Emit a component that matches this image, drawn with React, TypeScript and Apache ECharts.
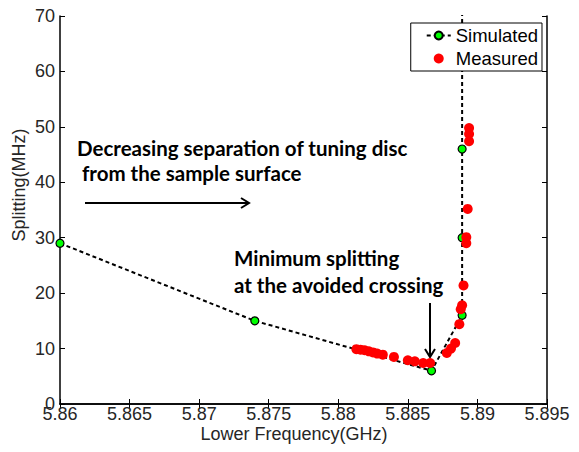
import React, { useEffect, useRef } from "react";
import * as echarts from "echarts";

const simFreq = [5.86, 5.874, 5.8867, 5.8889, 5.8889, 5.8889, 5.8889];
const simSplit = [29, 15, 6, 16, 30, 46, 75];

const measFreq = [
  5.8813, 5.8816, 5.8819, 5.8822, 5.8825, 5.8828, 5.8832, 5.884, 5.885, 5.8855,
  5.8861, 5.8866, 5.8878, 5.8881, 5.8884, 5.8887, 5.8888, 5.8889, 5.889, 5.8892,
  5.8892, 5.8893, 5.8894, 5.8894, 5.8894,
];
const measSplit = [
  9.9, 9.8, 9.7, 9.5, 9.3, 9.1, 8.9, 8.5, 7.9, 7.7, 7.4, 7.4, 9.2, 10.0, 11.0,
  14.4, 17.1, 17.8, 21.4, 29.0, 30.1, 35.2, 47.4, 48.7, 49.8,
];

const xTicks = { min: 5.86, max: 5.895, interval: 0.005 };
const yTicks = { min: 0, max: 70, interval: 10 };

const xTitle = "Lower Frequency(GHz)";
const yTitle = "Splitting(MHz)";
const annotation1 = ["Decreasing separation of tuning disc", " from the sample surface"];
const annotation2 = ["Minimum splitting", "at the avoided crossing"];

export default function App() {
  const ref = useRef<HTMLDivElement>(null);
  useEffect(() => {
    document.body.style.margin = "0";
    const chart = echarts.init(ref.current!, null, { renderer: "svg" });
    const fam = "Arial, 'Liberation Sans', sans-serif";
    const axisFont = { fontFamily: fam, fontSize: 18, color: "#262626" };
    const annFont = "bold 20.5px Lato";
    const fmtX = (v: number) => String(parseFloat(v.toFixed(3)));
    const frameLine = { show: true, lineStyle: { color: "#000", width: 1.5 } };
    const tick = { show: true, inside: true, length: 5, lineStyle: { color: "#000" } };
    chart.setOption({
      animation: false,
      backgroundColor: "#fff",
      grid: { left: 60, right: 32, top: 16, bottom: 48, containLabel: false },
      legend: {
        orient: "vertical",
        right: 37,
        top: 23,
        backgroundColor: "#fff",
        borderColor: "#000",
        borderWidth: 1,
        borderRadius: 0,
        padding: [3, 4, 3, 15],
        itemGap: 4,
        itemWidth: 24,
        itemHeight: 10,
        textStyle: { fontFamily: fam, fontSize: 18.5, color: "#000" },
        data: [{ name: "Simulated" }, { name: "Measured" }],
      },
      xAxis: [
        {
          type: "value",
          ...xTicks,
          axisLine: frameLine,
          axisTick: tick,
          axisLabel: { ...axisFont, margin: 1, formatter: fmtX },
          splitLine: { show: false },
        },
        {
          type: "value",
          ...xTicks,
          position: "top",
          axisLine: frameLine,
          axisTick: tick,
          axisLabel: { show: false },
          splitLine: { show: false },
        },
      ],
      yAxis: [
        {
          type: "value",
          ...yTicks,
          axisLine: frameLine,
          axisTick: tick,
          axisLabel: { ...axisFont, margin: 5 },
          splitLine: { show: false },
        },
        {
          type: "value",
          ...yTicks,
          position: "right",
          axisLine: frameLine,
          axisTick: tick,
          axisLabel: { show: false },
          splitLine: { show: false },
        },
      ],
      series: [
        {
          name: "Simulated",
          type: "line",
          data: simFreq.map((f, i) => [f, simSplit[i]]),
          clip: true,
          symbol: "circle",
          symbolSize: 8,
          lineStyle: { color: "#000", width: 2, type: [4, 3] },
          itemStyle: { color: "#00ff00", borderColor: "#000", borderWidth: 1.2 },
          z: 2,
        },
        {
          name: "Measured",
          type: "scatter",
          data: measFreq.map((f, i) => [f, measSplit[i]]),
          symbol: "circle",
          symbolSize: 10,
          itemStyle: { color: "#ff0000", opacity: 1 },
          z: 3,
        },
      ],
      graphic: [
        {
          type: "text",
          x: 294,
          y: 434,
          style: { text: xTitle, font: `18px ${fam}`, fill: "#262626", align: "center", verticalAlign: "middle" },
        },
        {
          type: "text",
          x: 19,
          y: 185,
          rotation: Math.PI / 2,
          style: { text: yTitle, font: `18px ${fam}`, fill: "#262626", align: "center", verticalAlign: "middle" },
        },
        { type: "text", x: 77, y: 148, style: { text: annotation1[0], font: annFont, fill: "#000", verticalAlign: "middle" } },
        { type: "text", x: 77, y: 173, style: { text: annotation1[1], font: annFont, fill: "#000", verticalAlign: "middle" } },
        {
          type: "line",
          shape: { x1: 85, y1: 203, x2: 249, y2: 203 },
          style: { stroke: "#000", lineWidth: 2 },
        },
        {
          type: "polyline",
          shape: { points: [[241, 198], [249, 203], [241, 208]] },
          style: { stroke: "#000", lineWidth: 2, fill: null },
        },
        { type: "text", x: 234, y: 258, style: { text: annotation2[0], font: annFont, fill: "#000", verticalAlign: "middle" } },
        { type: "text", x: 234, y: 285, style: { text: annotation2[1], font: annFont, fill: "#000", verticalAlign: "middle" } },
        {
          type: "line",
          shape: { x1: 430, y1: 303, x2: 430, y2: 357 },
          style: { stroke: "#000", lineWidth: 2 },
        },
        {
          type: "polyline",
          shape: { points: [[425, 349], [430, 357], [435, 349]] },
          style: { stroke: "#000", lineWidth: 2, fill: null },
        },
      ],
    });
    return () => chart.dispose();
  }, []);
  return <div ref={ref} style={{ width: 579, height: 452 }} />;
}
